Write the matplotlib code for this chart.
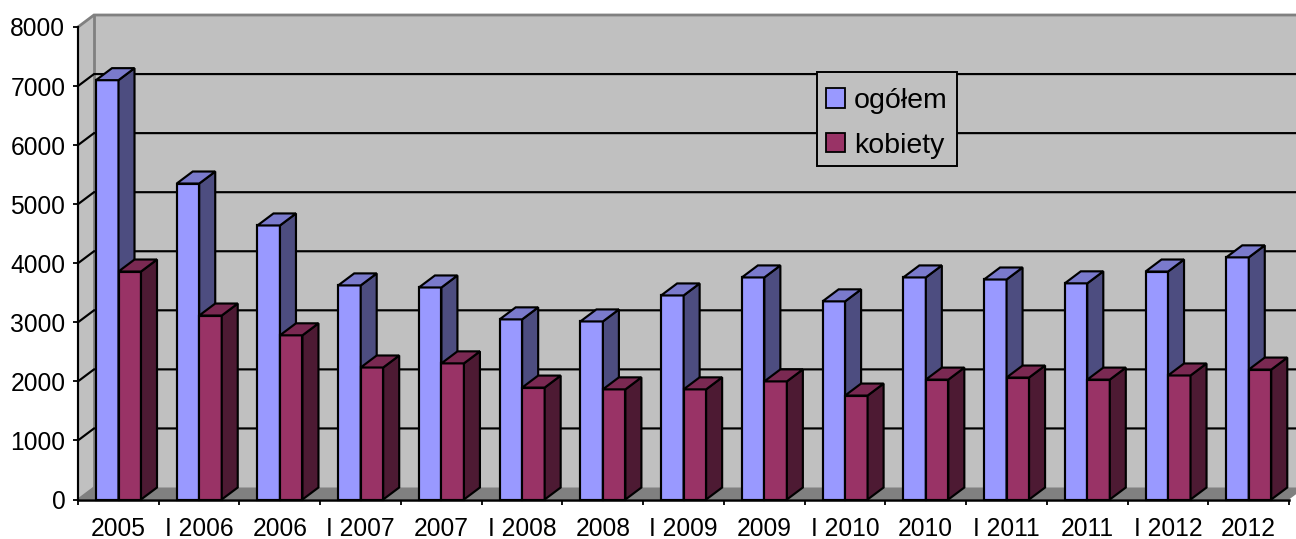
import matplotlib
matplotlib.use("Agg")
import matplotlib.pyplot as plt
from matplotlib.patches import Patch, Rectangle

plt.rcParams['font.family'] = ['Liberation Sans', 'DejaVu Sans']

categories = ["2005", "I 2006", "2006", "I 2007", "2007", "I 2008", "2008", "I 2009",
              "2009", "I 2010", "2010", "I 2011", "2011", "I 2012", "2012"]
ogolem = [7100, 5350, 4640, 3625, 3590, 3050, 3015, 3455,
          3760, 3355, 3760, 3725, 3660, 3860, 4100]
kobiety = [3860, 3115, 2780, 2235, 2305, 1895, 1865, 1865,
           2000, 1760, 2030, 2065, 2030, 2100, 2200]
yticks = list(range(0, 8001, 1000))

W, H = 1296, 539
L, R, T, B = 78, 1289, 27, 499.5
fig = plt.figure(figsize=(W / 100, H / 100), dpi=100, facecolor="white")
ax = fig.add_axes([L / W, 1 - B / H, (R - L) / W, (B - T) / H])
n = len(categories)
ax.set_xlim(0, n)
ax.set_ylim(0, 8000)
ax.patch.set_visible(False)

px_x = n / (R - L)
px_y = 8000 / (B - T)
DX, DY = 16 * px_x, 12 * px_y
LW = 1.55

def poly(xs, ys, fc, ec="black", lw=LW, z=3):
    ax.fill(xs, ys, facecolor=fc, edgecolor=ec, linewidth=lw, clip_on=False,
            zorder=z, joinstyle="miter")

# walls and floor
poly([0, 0, DX, DX], [0, 8000, 8000 + DY, DY], "#c0c0c0", ec="none", z=1)
poly([DX, DX, n + DX, n + DX], [DY, 8000 + DY, 8000 + DY, DY], "#c0c0c0", ec="none", z=1)
poly([0, DX, n + DX, n], [0, DY, DY, 0], "#808080", ec="none", z=1)
gray = "#808080"
ax.plot([DX, DX], [DY, 8000 + DY], color=gray, lw=2, clip_on=False, zorder=1.5)
ax.plot([0, DX, n + DX], [8000, 8000 + DY, 8000 + DY], color=gray, lw=2,
        clip_on=False, zorder=1.5, solid_joinstyle="miter")
ax.plot([0, DX], [0, DY], color=gray, lw=1.5, clip_on=False, zorder=1.5)

for v in yticks[1:-1]:
    ax.plot([0, DX, n + DX], [v, v + DY, v + DY], color="black", lw=LW,
            clip_on=False, zorder=1.6, solid_joinstyle="miter")

# bars
bw = 22.5 * px_x
gap = 18 * px_x

def draw(x0, v, front, top, side, z):
    ax.bar(x0, v, width=bw, align="edge", color=front, edgecolor="black",
           linewidth=LW, zorder=z, clip_on=False)
    x1 = x0 + bw
    poly([x1, x1 + DX, x1 + DX, x1], [0, DY, v + DY, v], side, z=z)
    poly([x0, x1, x1 + DX, x0 + DX], [v, v, v + DY, v + DY], top, z=z)

for i in range(n):
    draw(i + gap, ogolem[i], "#9999ff", "#7a7acc", "#4d4d80", 3 + i * 0.01)
    draw(i + gap + bw, kobiety[i], "#993366", "#7a2952", "#4d1a33", 3.005 + i * 0.01)

# axes
for s in ("top", "right"):
    ax.spines[s].set_visible(False)
for s in ("left", "bottom"):
    ax.spines[s].set_linewidth(LW)
    ax.spines[s].set_zorder(20)
ax.spines["bottom"].set_linewidth(1.8)
ax.set_yticks(yticks)
ax.set_xticks(range(n + 1))
ax.set_xticklabels([])
ax.set_xticks([i + 0.5 for i in range(n)], labels=categories, minor=True)
ax.tick_params(axis="y", length=3.6, width=1.3, pad=5.5, labelsize=17.7, color="black")
ax.tick_params(axis="x", which="major", length=3.6, width=1.3)
ax.tick_params(axis="x", which="minor", length=0, pad=12.5, labelsize=17.7)

# legend
fig.add_artist(Rectangle((816.5 / W, 1 - 165.5 / H), 140 / W, 93.5 / H,
                         transform=fig.transFigure, facecolor="#c0c0c0",
                         edgecolor="black", linewidth=1.4, zorder=29))
handles = [Patch(facecolor="#9999ff", edgecolor="black", linewidth=1.3, label="ogółem"),
           Patch(facecolor="#993366", edgecolor="black", linewidth=1.3, label="kobiety")]
leg = fig.legend(handles=handles, loc="upper left",
                 bbox_to_anchor=(826 / W, 1 - 88 / H), bbox_transform=fig.transFigure,
                 fontsize=20.5, frameon=False, borderaxespad=0,
                 handlelength=0.66, handleheight=0.66, handletextpad=0.33,
                 borderpad=0, labelspacing=0.65)
leg.set_zorder(30)

fig.savefig("out.png", dpi=100, facecolor="white")
